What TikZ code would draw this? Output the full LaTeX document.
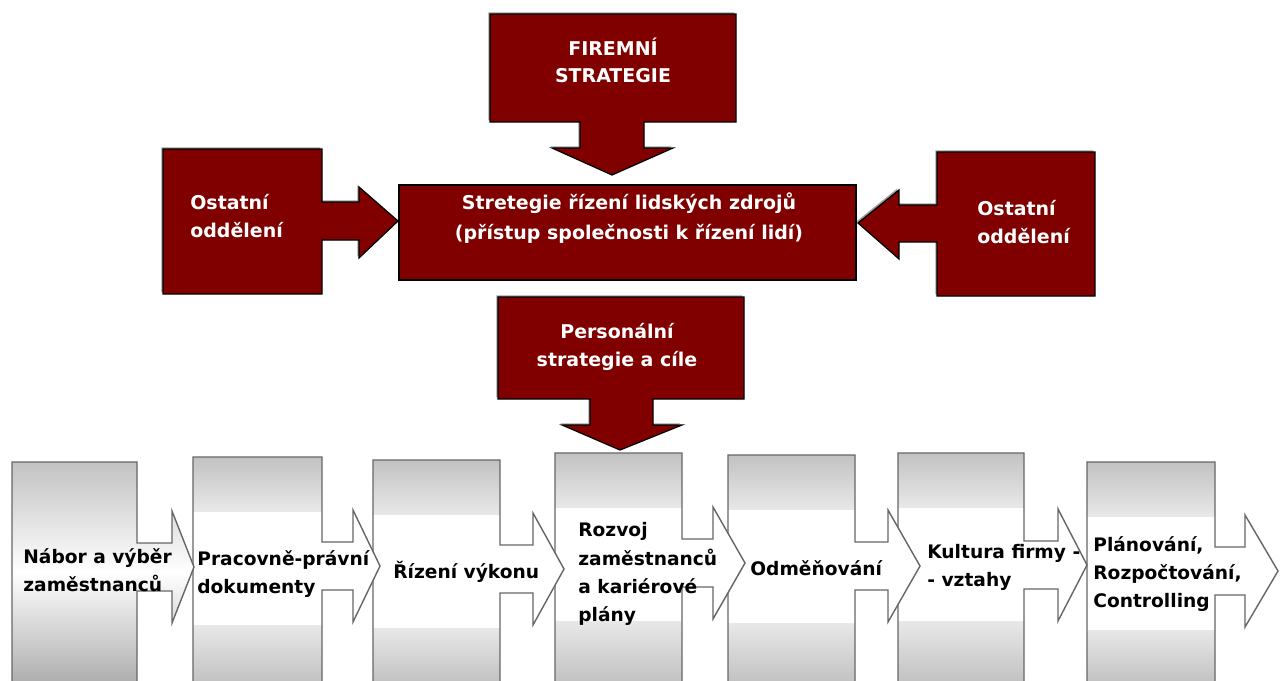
\documentclass[tikz,border=0pt]{standalone}
\usepackage{fontspec}
\setmainfont{DejaVu Sans}
\usepackage{tikz}
\usetikzlibrary{shadows, % for the grey edge of the red blocks
                positioning}

\definecolor{hrmaroon}{HTML}{800000}
\definecolor{bandgray}{HTML}{C2C2C2}
\definecolor{bandlight}{HTML}{E8E8E8}
\definecolor{edgegray}{HTML}{666666}

\begin{document}
\begin{tikzpicture}[x=0.02cm, y=-0.02cm,
                    maroon/.style={fill=hrmaroon, draw=black, line width=0.7pt, line join=miter,
                                   drop shadow={shadow xshift=-0.9pt, shadow yshift=0.9pt, fill=gray!75, opacity=1}},
                    whitetext/.style={text=white, font=\bfseries\fontsize{10.8}{15.5}\selectfont, align=center, inner sep=0pt},
                    proctext/.style={text=black, font=\bfseries\fontsize{10.6}{16}\selectfont, align=left, anchor=west, inner sep=0pt},
                    procshape/.style={draw=edgegray, line width=0.8pt, line join=miter}
                    ]
    \useasboundingbox (0,0) rectangle (1283,680);

    % PROCESS CHAIN (drawn right to left, each head lies on the next box) %
    \foreach \n/\l/\t/\r/\s/\p/\c/\tx/\ty/\lbl in {
        7/1087/462/1215/1245/1278/571/1093/574/{Plánování,\\Rozpočtování,\\Controlling},
        6/898/453/1024/1058/1087/565/927/567/{Kultura firmy -\\- vztahy},
        5/728/455/855/888/920/566/750/568/{Odměňování},
        4/555/453/682/713/745/563/578/574/{Rozvoj\\zaměstnanců\\a kariérové\\plány},
        3/373/460/500/533/564/569/393/572/{Řízení výkonu},
        2/193/457/322/353/380/566/197/574/{Pracovně-právní\\dokumenty}}{
    \fill[white] (\l,\t) -- (\r,\t) -- (\r,\c-24) -- (\s,\c-24) -- (\s,\c-56) -- (\p,\c)
        -- (\s,\c+56) -- (\s,\c+24) -- (\r,\c+24) -- (\r,682) -- (\l,682) -- cycle;
    \begin{scope}
    \clip (\l,\t) rectangle (\r,682);
    \fill[top color=bandgray, bottom color=bandlight] (\l,\t) rectangle (\r,\t+54);
    \fill[top color=bandlight, bottom color=bandgray] (\l,\t+168) rectangle (\r,682);
    \end{scope}
    \draw[procshape] (\l,\t) -- (\r,\t) -- (\r,\c-24) -- (\s,\c-24) -- (\s,\c-56) -- (\p,\c)
        -- (\s,\c+56) -- (\s,\c+24) -- (\r,\c+24) -- (\r,682) -- (\l,682) -- cycle;
    \node[proctext] (proc\n) at (\tx,\ty) {\lbl};
    }

    % first box has one soft gradient %
    \draw[procshape, top color=bandgray, bottom color=bandgray!90!black, middle color=white]
        (12,462) -- (137,462) -- (137,543) -- (172,543) -- (172,511) -- (194,567)
        -- (172,623) -- (172,591) -- (137,591) -- (137,682) -- (12,682) -- cycle;
    \node[proctext] (proc1) at (23,570) {Nábor a výběr\\zaměstnanců};

    % FIRM STRATEGY %
    \draw[maroon] (490,14) -- (736,14) -- (736,122) -- (644,122) -- (644,148) -- (673,148)
        -- (612,175) -- (552,148) -- (580,148) -- (580,122) -- (490,122) -- cycle;
    \node[whitetext] (firm) at (613,60) {FIREMNÍ\\STRATEGIE};

    % OTHER DEPARTMENTS %
    \draw[maroon] (163,149) -- (322,149) -- (322,202) -- (359,202) -- (359,187) -- (398,221)
        -- (359,258) -- (359,240) -- (322,240) -- (322,294) -- (163,294) -- cycle;
    \node[whitetext, align=left, anchor=west] (deptleft) at (190,216) {Ostatní\\oddělení};

    \draw[maroon] (937,152) -- (1095,152) -- (1095,296) -- (937,296) -- (937,242) -- (899,242)
        -- (899,259) -- (858,223) -- (899,190) -- (899,205) -- (937,205) -- cycle;
    \node[whitetext, align=left, anchor=west] (deptright) at (977,222) {Ostatní\\oddělení};

    % HR STRATEGY %
    \draw[fill=hrmaroon, draw=black, line width=1.2pt] (399,185) rectangle (856,280);
    \node[whitetext, font=\bfseries\fontsize{10.8}{17}\selectfont] (hrm) at (629,218)
        {Stretegie řízení lidských zdrojů\\(přístup společnosti k řízení lidí)};

    % PERSONNEL STRATEGY %
    \draw[maroon] (498,297) -- (744,297) -- (744,399) -- (653,399) -- (653,425) -- (682,425)
        -- (620,450) -- (562,425) -- (590,425) -- (590,399) -- (498,399) -- cycle;
    \node[whitetext] (personal) at (617,347) {Personální\\strategie a cíle};

\end{tikzpicture}
\end{document}
